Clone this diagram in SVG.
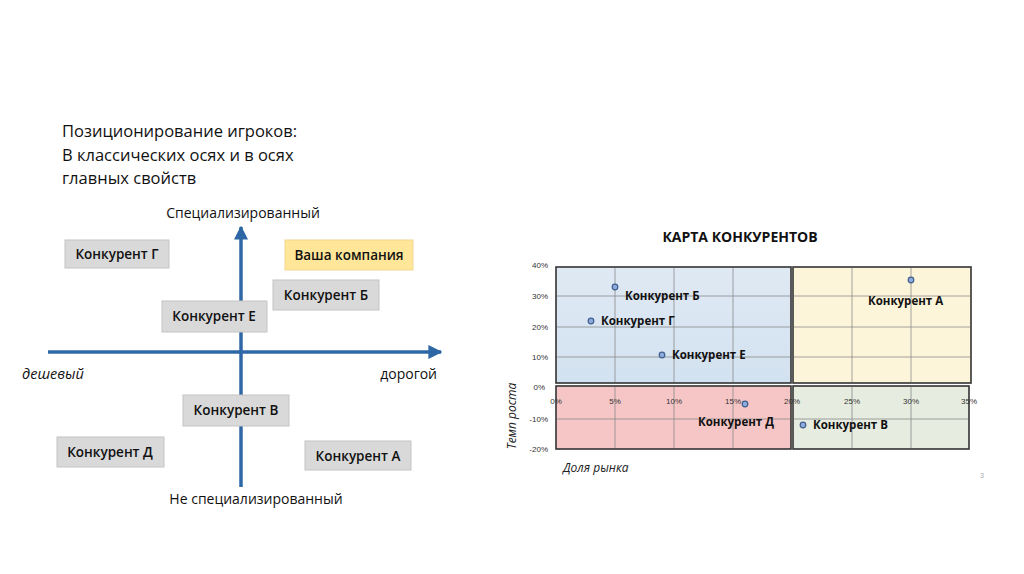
<svg xmlns="http://www.w3.org/2000/svg" width="1024" height="574" viewBox="0 0 1024 574">
<style>
.ttl{font-family:"Open Sans","Liberation Sans",sans-serif;font-size:16.5px;fill:#111}
.ax{font-family:"Open Sans","Liberation Sans",sans-serif;font-size:14px;fill:#111}
.axi{font-family:"Open Sans","Liberation Sans",sans-serif;font-size:14.5px;fill:#111;font-style:italic}
.box{fill:#d9d9d9;stroke:#c4c4c4;stroke-width:1}
.gold{fill:#ffe699;stroke:#f0d890;stroke-width:1}
.bt{font-family:"Open Sans","Liberation Sans",sans-serif;font-size:13.5px;font-weight:600;fill:#111;text-anchor:middle}
.axis{stroke:#2e67a6;stroke-width:3.5;fill:none}
.q{stroke:#333;stroke-width:1.6}
.grid{stroke:#8c8c8c;stroke-width:0.8}
.tick{font-family:"Liberation Sans",sans-serif;font-size:8px;fill:#333}
.pt{fill:#8faadc;stroke:#3f5f8f;stroke-width:1.2}
.pl{font-family:"Open Sans","Liberation Sans",sans-serif;font-size:11.5px;font-weight:700;fill:#111}
.it{font-family:"Open Sans","Liberation Sans",sans-serif;font-size:12px;font-style:italic;fill:#222}
</style>
<defs>
<marker id="arr" viewBox="0 0 10 10" refX="9" refY="5" markerWidth="4" markerHeight="4" orient="auto" markerUnits="strokeWidth">
<path d="M0,0 L10,5 L0,10 z" fill="#2e67a6"/>
</marker>
<linearGradient id="blueg" x1="0" y1="0" x2="0" y2="1">
<stop offset="0" stop-color="#dfe9f4"/><stop offset="1" stop-color="#d3e2f0"/>
</linearGradient>
</defs>
<rect width="1024" height="574" fill="#ffffff"/>

<g id="title">
<text class="ttl" x="62" y="137">Позиционирование игроков:</text>
<text class="ttl" x="62" y="161">В классических осях и в осях</text>
<text class="ttl" x="62" y="184">главных свойств</text>
</g>

<g id="connectors">
<line class="axis" x1="241" y1="487" x2="241" y2="227" marker-end="url(#arr)"/>
<line class="axis" x1="48" y1="352" x2="441" y2="352" marker-end="url(#arr)"/>
</g>

<g id="axis-labels">
<text class="ax" x="243" y="218" text-anchor="middle">Специализированный</text>
<text class="ax" x="256" y="504" text-anchor="middle">Не специализированный</text>
<text class="axi" x="22" y="379">дешевый</text>
<text class="ax" x="437" y="379" text-anchor="end">дорогой</text>
</g>

<g id="node-g"><rect class="box" x="65" y="240" width="104" height="28"/><text class="bt" x="117" y="259">Конкурент Г</text></g>
<g id="node-company"><rect class="gold" x="285" y="240" width="128" height="30"/><text class="bt" x="349" y="260">Ваша компания</text></g>
<g id="node-b"><rect class="box" x="273" y="280" width="106" height="30"/><text class="bt" x="326" y="300">Конкурент Б</text></g>
<g id="node-e"><rect class="box" x="162" y="301" width="105" height="31"/><text class="bt" x="214" y="321">Конкурент Е</text></g>
<g id="node-v"><rect class="box" x="183" y="395" width="106" height="31"/><text class="bt" x="236" y="415">Конкурент В</text></g>
<g id="node-d"><rect class="box" x="57" y="437" width="107" height="30"/><text class="bt" x="110" y="457">Конкурент Д</text></g>
<g id="node-a"><rect class="box" x="305" y="441" width="106" height="29"/><text class="bt" x="358" y="461">Конкурент А</text></g>

<g id="chart">
<text x="740" y="242" text-anchor="middle" style="font-family:'Open Sans','Liberation Sans',sans-serif;font-size:14px;font-weight:700;fill:#111">КАРТА КОНКУРЕНТОВ</text>
<rect class="q" x="556" y="267" width="235" height="116" fill="url(#blueg)"/>
<rect class="q" x="793" y="267" width="178" height="116" fill="#fdf5da"/>
<rect class="q" x="556" y="386" width="235" height="63" fill="#f6c6c6"/>
<rect class="q" x="793" y="386" width="176" height="63" fill="#e6ecdf"/>
<g id="gridlines">
<line class="grid" x1="615" y1="268" x2="615" y2="382"/>
<line class="grid" x1="674" y1="268" x2="674" y2="382"/>
<line class="grid" x1="733" y1="268" x2="733" y2="382"/>
<line class="grid" x1="852" y1="268" x2="852" y2="382"/>
<line class="grid" x1="911" y1="268" x2="911" y2="382"/>
<line class="grid" x1="615" y1="387" x2="615" y2="448"/>
<line class="grid" x1="674" y1="387" x2="674" y2="448"/>
<line class="grid" x1="733" y1="387" x2="733" y2="448"/>
<line class="grid" x1="852" y1="387" x2="852" y2="448"/>
<line class="grid" x1="911" y1="387" x2="911" y2="448"/>
<line class="grid" x1="557" y1="296" x2="790" y2="296"/>
<line class="grid" x1="557" y1="327" x2="790" y2="327"/>
<line class="grid" x1="557" y1="357" x2="790" y2="357"/>
<line class="grid" x1="794" y1="296" x2="970" y2="296"/>
<line class="grid" x1="794" y1="327" x2="970" y2="327"/>
<line class="grid" x1="794" y1="357" x2="970" y2="357"/>
<line class="grid" x1="557" y1="419" x2="790" y2="419"/>
<line class="grid" x1="794" y1="419" x2="968" y2="419"/>
</g>
<g id="ticks">
<text class="tick" x="548" y="268" text-anchor="end">40%</text>
<text class="tick" x="548" y="299" text-anchor="end">30%</text>
<text class="tick" x="548" y="330" text-anchor="end">20%</text>
<text class="tick" x="548" y="360" text-anchor="end">10%</text>
<text class="tick" x="545" y="390" text-anchor="end">0%</text>
<text class="tick" x="548" y="422" text-anchor="end">-10%</text>
<text class="tick" x="548" y="452" text-anchor="end">-20%</text>
<text class="tick" x="556" y="404" text-anchor="middle">0%</text>
<text class="tick" x="615" y="404" text-anchor="middle">5%</text>
<text class="tick" x="674" y="404" text-anchor="middle">10%</text>
<text class="tick" x="733" y="404" text-anchor="middle">15%</text>
<text class="tick" x="792" y="404" text-anchor="middle">20%</text>
<text class="tick" x="852" y="404" text-anchor="middle">25%</text>
<text class="tick" x="911" y="404" text-anchor="middle">30%</text>
<text class="tick" x="969" y="404" text-anchor="middle">35%</text>
</g>
<text class="it" transform="translate(516,416) rotate(-90)" text-anchor="middle">Темп роста</text>
<text class="it" x="563" y="472">Доля рынка</text>
<text x="980" y="478" style="font-family:'Liberation Sans',sans-serif;font-size:7px;fill:#aaa">3</text>
<g id="points">
<circle class="pt" cx="615" cy="287" r="2.8"/><text class="pl" x="625" y="300">Конкурент Б</text>
<circle class="pt" cx="591" cy="321" r="2.8"/><text class="pl" x="601" y="325">Конкурент Г</text>
<circle class="pt" cx="662" cy="355" r="2.8"/><text class="pl" x="672" y="359">Конкурент Е</text>
<circle class="pt" cx="911" cy="280" r="2.8"/><text class="pl" x="868" y="305">Конкурент А</text>
<circle class="pt" cx="745" cy="404" r="2.8"/><text class="pl" x="698" y="426">Конкурент Д</text>
<circle class="pt" cx="803" cy="425" r="2.8"/><text class="pl" x="813" y="429">Конкурент В</text>
</g>
</g>
</svg>
